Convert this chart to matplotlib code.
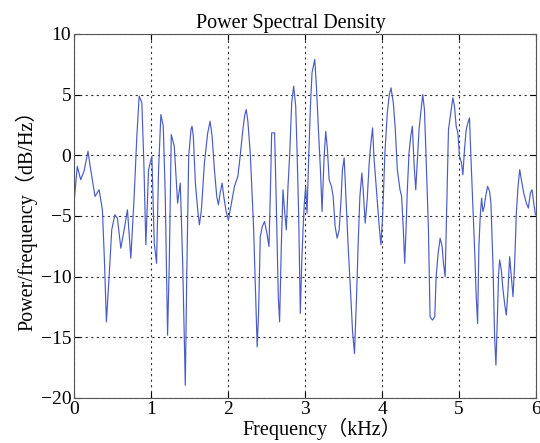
import matplotlib
matplotlib.use('Agg')
import matplotlib.pyplot as plt

# frequency in kHz
freq = [0.000, 0.043, 0.087, 0.130, 0.182, 0.217, 0.273, 0.326, 0.369, 0.395,
        0.421, 0.456, 0.490, 0.530, 0.564, 0.608, 0.651, 0.694, 0.738, 0.781,
        0.816, 0.846, 0.881, 0.907, 0.933, 0.968, 1.011, 1.042, 1.072, 1.098,
        1.128, 1.159, 1.185, 1.215, 1.237, 1.263, 1.302, 1.345, 1.380, 1.411,
        1.445, 1.463, 1.489, 1.519, 1.532, 1.549, 1.576, 1.606, 1.628, 1.654,
        1.693, 1.736, 1.767, 1.793, 1.823, 1.853, 1.875, 1.897, 1.923, 1.944,
        1.975, 2.005, 2.040, 2.083, 2.127, 2.157, 2.192, 2.218, 2.236, 2.257,
        2.288, 2.313, 2.331, 2.357, 2.378, 2.396, 2.418, 2.444, 2.474, 2.504,
        2.531, 2.548, 2.566, 2.604, 2.626, 2.652, 2.669, 2.691, 2.713, 2.734,
        2.756, 2.778, 2.799, 2.826, 2.852, 2.878, 2.895, 2.917, 2.938, 2.956,
        2.973, 2.990, 3.008, 3.025, 3.047, 3.069, 3.090, 3.125, 3.147, 3.173,
        3.199, 3.220, 3.247, 3.268, 3.290, 3.312, 3.342, 3.364, 3.390, 3.416,
        3.442, 3.464, 3.485, 3.507, 3.529, 3.559, 3.589, 3.615, 3.641, 3.668,
        3.689, 3.711, 3.737, 3.754, 3.780, 3.806, 3.832, 3.854, 3.876, 3.893,
        3.919, 3.941, 3.962, 3.984, 4.006, 4.036, 4.067, 4.093, 4.115, 4.145,
        4.171, 4.197, 4.232, 4.253, 4.275, 4.293, 4.310, 4.327, 4.349, 4.371,
        4.392, 4.414, 4.436, 4.457, 4.479, 4.501, 4.527, 4.549, 4.570, 4.601,
        4.622, 4.653, 4.683, 4.701, 4.727, 4.753, 4.779, 4.796, 4.818, 4.840,
        4.861, 4.891, 4.918, 4.939, 4.961, 4.983, 5.004, 5.030, 5.048, 5.069,
        5.091, 5.113, 5.134, 5.152, 5.178, 5.204, 5.221, 5.239, 5.256, 5.273,
        5.291, 5.308, 5.326, 5.343, 5.369, 5.395, 5.412, 5.438, 5.460, 5.477,
        5.495, 5.512, 5.525, 5.547, 5.569, 5.595, 5.612, 5.634, 5.655, 5.677,
        5.699, 5.720, 5.742, 5.764, 5.786, 5.807, 5.838, 5.872, 5.898, 5.924,
        5.946, 5.968, 5.990]

# power/frequency in dB/Hz
psd = [-3.94, -0.91, -2.01, -1.32, 0.33, -1.18, -3.39, -2.84, -4.49, -8.62,
       -13.72, -10.00, -6.14, -4.90, -5.18, -7.66, -6.14, -4.49, -8.48, -3.39,
       1.57, 4.88, 4.33, -0.63, -7.38, -1.18, -0.08, -7.25, -8.90, -1.18,
       3.36, 2.40, -3.39, -14.82, -8.90, 1.71, 0.74, -3.94, -2.29, -8.90,
       -18.95, -10.28, -0.08, 2.12, 2.40, 1.57, -2.29, -4.49, -5.73, -4.49,
       -0.63, 1.85, 2.81, 1.57, -1.18, -3.39, -4.08, -3.11, -2.29, -3.39,
       -4.63, -5.32, -4.08, -2.56, -1.74, -0.08, 2.12, 3.36, 3.77, 2.81,
       0.19, -3.39, -5.87, -11.38, -15.79, -13.03, -6.69, -5.87, -5.45, -6.42,
       -7.52, -3.39, 1.85, 1.85, -3.94, -11.65, -13.72, -7.52, -2.84, -4.63,
       -6.14, -2.56, -0.08, 4.33, 5.70, 4.05, 0.47, -5.04, -13.03, -8.90,
       -6.14, -3.94, -2.56, -4.77, -0.08, 4.05, 6.80, 7.91, 5.70, 2.12,
       -1.18, -4.63, -0.08, 1.98, 0.47, -2.01, -2.56, -3.39, -5.87, -6.83,
       -6.14, -3.94, -1.18, -0.22, -3.39, -7.52, -11.10, -14.41, -16.34, -11.65,
       -7.25, -3.39, -1.46, -2.84, -5.59, -3.66, -0.63, 1.02, 2.26, -0.08,
       -2.29, -4.21, -5.87, -7.38, -5.04, 0.19, 3.50, 5.01, 5.56, 4.33,
       2.12, -1.18, -2.84, -3.39, -6.14, -8.90, -6.14, -2.84, 0.19, 1.57,
       2.40, -0.63, -2.84, -0.36, 2.12, 3.50, 5.01, 3.77, -0.08, -6.14,
       -13.31, -13.58, -13.31, -10.00, -8.07, -6.83, -7.52, -8.90, -10.00, -3.66,
       2.12, 3.50, 4.74, 4.05, 2.40, 1.85, -0.08, -0.63, -1.60, 0.47,
       2.12, 2.67, 3.09, -0.08, -4.21, -8.35, -11.65, -13.86, -7.52, -5.04,
       -3.53, -4.63, -4.21, -3.39, -2.56, -2.98, -3.94, -8.90, -14.96, -17.30,
       -13.58, -9.72, -8.62, -9.45, -11.10, -12.48, -13.17, -11.10, -8.35, -10.00,
       -11.65, -8.90, -4.77, -2.56, -1.18, -2.01, -3.11, -3.94, -4.35, -3.11,
       -2.84, -3.94, -4.90]

xticks = [0, 1, 2, 3, 4, 5, 6]
yticks = [-20, -15, -10, -5, 0, 5, 10]

plt.rcParams['font.family'] = ['Liberation Serif', 'Noto Sans CJK SC']

fig = plt.figure(figsize=(5.4, 4.43), dpi=100)
ax = fig.add_axes([0.137, 0.1016, 0.856, 0.8217])

ax.plot(freq, psd, color='#4a5cc4', linewidth=0.85)

ax.set_xlim(0, 6)
ax.set_ylim(-20, 10)
ax.set_xticks(xticks)
ax.set_yticks(yticks)
ax.grid(True, color='#333333', linestyle=(0, (2, 3)), linewidth=0.8)
ax.tick_params(direction='in', top=True, right=True, length=4, pad=2, labelsize=14)
for s in ax.spines.values():
    s.set_color('#555555')

ax.set_title('Power Spectral Density', fontsize=14.5, pad=4, x=0.47)
ax.set_xlabel('Frequency\uff08kHz\uff09', fontsize=14.5, labelpad=-1)
ax.xaxis.set_label_coords(0.537, -0.055)
ax.set_ylabel('Power/frequency\uff08dB/Hz\uff09', fontsize=14.5, labelpad=2)

fig.savefig('out.png', dpi=100)
